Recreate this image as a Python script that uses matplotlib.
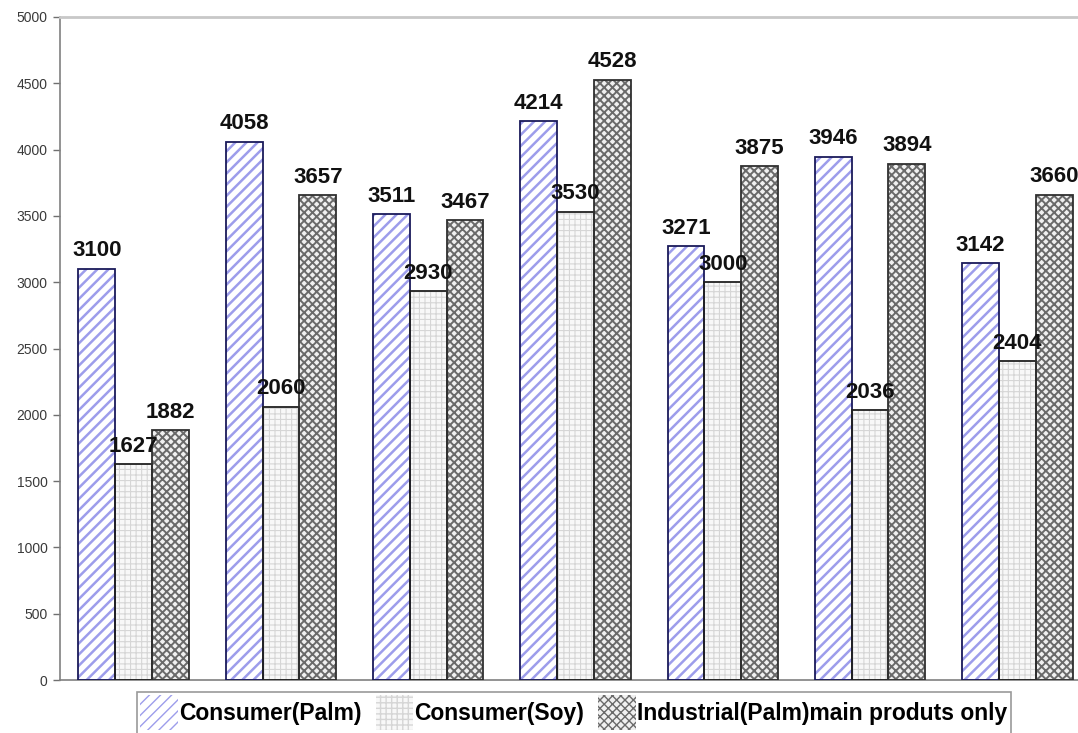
import matplotlib
matplotlib.use("Agg")
import matplotlib.pyplot as plt
import numpy as np

# Data
groups = ["1", "2", "3", "4", "5", "6", "7"]
consumer_palm = [3100, 4058, 3511, 4214, 3271, 3946, 3142]
consumer_soy = [1627, 2060, 2930, 3530, 3000, 2036, 2404]
industrial_palm = [1882, 3657, 3467, 4528, 3875, 3894, 3660]
series_names = ["Consumer(Palm)", "Consumer(Soy)", "Industrial(Palm)main produts only"]
y_ticks = [0, 500, 1000, 1500, 2000, 2500, 3000, 3500, 4000, 4500, 5000]

plt.rcParams["font.family"] = ["Liberation Sans", "DejaVu Sans"]

W, H = 1078, 733
fig = plt.figure(figsize=(W / 100, H / 100), dpi=100)
ax = fig.add_axes([60 / W, 1 - 680 / H, 1031 / W, 663 / H])

x = np.arange(len(groups))
bw = 0.25

styles = [
    # face, hatch, hatch colour, hatch width, outline colour
    ("white", "///", "#9d9deb", 1.8, "#1a1a5a"),
    ("#f8f8f8", "+++", "#d6d6d6", 0.8, "#202020"),
    ("#f0f0f0", "xxxx", "#6a6a6a", 1.4, "#303030"),
]
series = [consumer_palm, consumer_soy, industrial_palm]

handles = []
for i, (vals, (fc, hatch, hc, hlw, oc)) in enumerate(zip(series, styles)):
    pos = x + (i - 1) * bw
    with plt.rc_context({"hatch.linewidth": hlw}):
        bars = ax.bar(pos, vals, bw, facecolor=fc, hatch=hatch, edgecolor=hc,
                      linewidth=0, zorder=2)
    for b in bars:
        if hasattr(b, "set_hatch_linewidth"):
            b.set_hatch_linewidth(hlw)
    ax.bar(pos, vals, bw, facecolor="none", edgecolor=oc, linewidth=1.3, zorder=3)
    handles.append(bars[0])
    for p, v in zip(pos, vals):
        ax.annotate(f"{v}", (p, v), xytext=(0, 9), textcoords="offset points",
                    ha="center", va="baseline", fontsize=16, fontweight="bold",
                    color="#111111", zorder=4)

ax.set_xlim(-0.5, len(groups) - 0.5)
ax.set_ylim(0, 5000)
ax.set_yticks(y_ticks)
ax.set_yticklabels([str(t) for t in y_ticks], fontsize=10, color="#3a3a3a")
ax.set_xticks([])
ax.tick_params(axis="y", direction="out", length=5, width=1, color="#707070", pad=4)

for side in ["left", "bottom"]:
    ax.spines[side].set_color("#808080")
    ax.spines[side].set_linewidth(1.2)
ax.spines["top"].set_color("#c8c8c8")
ax.spines["top"].set_linewidth(2)
ax.spines["right"].set_visible(False)

leg = fig.legend(handles, series_names, loc="upper left",
                 bbox_to_anchor=(137 / W, 1 - 692 / H), ncol=3,
                 prop={"family": "Liberation Sans", "weight": "bold", "size": 16.5},
                 frameon=True, fancybox=False, edgecolor="#808080",
                 handlelength=1.65, handleheight=1.95, handletextpad=0.05,
                 columnspacing=0.6, borderpad=0.15, borderaxespad=0)
leg.get_frame().set_linewidth(1.2)

fig.savefig("out.png", dpi=100)
